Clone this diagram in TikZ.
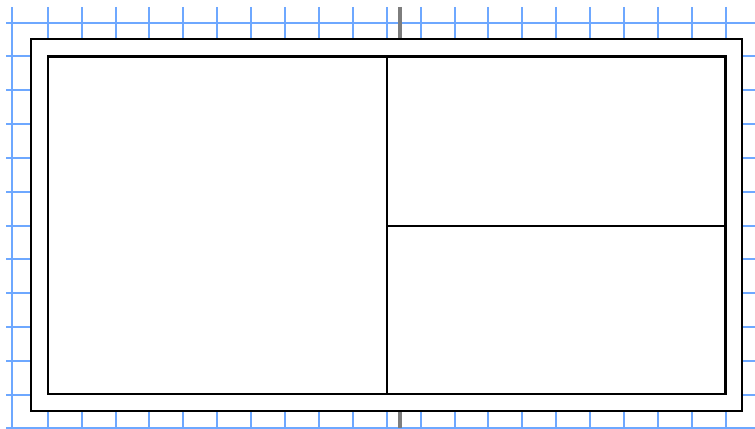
\documentclass[tikz,border=0pt]{standalone}
\begin{document}
\begin{tikzpicture}[x=0.75pt,y=-0.75pt,
  gridline/.style={draw={rgb,255:red,110;green,168;blue,255},line width=1.5pt},
  axisline/.style={draw={rgb,255:red,125;green,125;blue,125},line width=3pt},
  wall/.style={draw=black,line width=1.6pt}]
\useasboundingbox (0,0) rectangle (755,428);
% grid
\begin{scope}
\clip (6,7) rectangle (755,428);
\draw[gridline] (12,7) -- (12,428);
\foreach \i in {0,...,21} {
  \draw[gridline] ({47.7+33.9*\i},7) -- ({47.7+33.9*\i},428);
}
\foreach \j in {0,...,12} {
  \draw[gridline] (6,{22.7+33.8*\j}) -- (755,{22.7+33.8*\j});
}
\end{scope}
\draw[axisline] (400,7) -- (400,428);
% outer frame
\path[wall,fill=white] (31,39.3) rectangle (742,411);
% inner frame
\draw[wall] (48,56.5) rectangle (725.5,394.2);
\coordinate (vt) at (386.7,56.5);
\coordinate (vb) at (386.7,394.2);
\coordinate (hl) at (386.7,226);
\coordinate (hr) at (725.5,226);
\draw[wall] (vt) -- (vb);
\draw[wall] (hl) -- (hr);
\end{tikzpicture}
\end{document}
